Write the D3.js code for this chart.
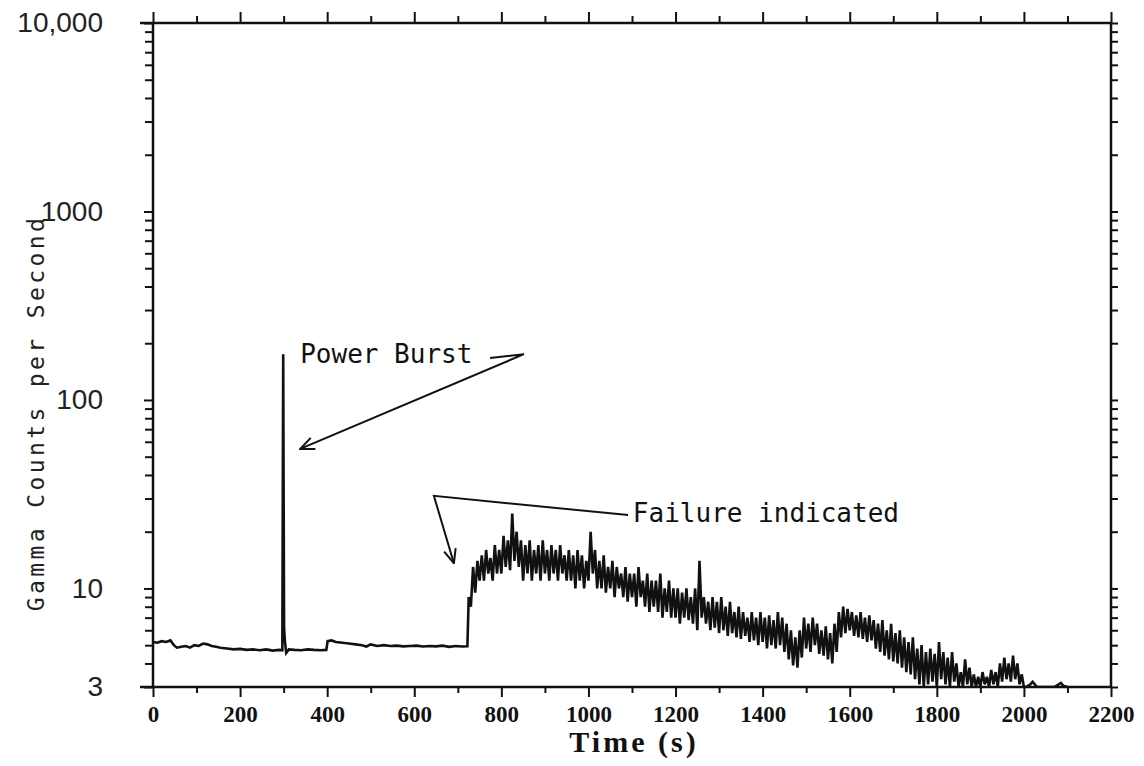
<!DOCTYPE html>
<html>
<head>
<meta charset="utf-8">
<script src="https://cdn.jsdelivr.net/npm/d3@7"></script>
<style>
  body { margin: 0; background: #fff; }
</style>
</head>
<body>
<div id="chart"></div>
<script>
// --- data ---
// background counts before the failure (time s, counts/s)
const baseTimes = [0, 10, 20, 30, 40, 48, 55, 65, 75, 85,
  95, 105, 115, 125, 135, 145, 155, 170, 185, 200,
  215, 230, 245, 260, 275, 290, 297, 299, 301, 303,
  306, 312, 325, 340, 355, 370, 385, 398, 401, 410,
  420, 435, 450, 465, 480, 490, 500, 515, 530, 545,
  560, 575, 590, 605, 620, 635, 650, 665, 680, 695,
  710, 722];
const baseCounts = [5.2, 5.15, 5.25, 5.2, 5.3, 5.0, 4.85, 4.9, 4.95, 4.85,
  5.0, 4.95, 5.1, 5.05, 4.95, 4.9, 4.85, 4.8, 4.75, 4.78,
  4.72, 4.75, 4.7, 4.75, 4.68, 4.72, 4.7, 175, 6.2, 5.2,
  4.55, 4.75, 4.72, 4.7, 4.75, 4.72, 4.7, 4.72, 5.25, 5.3,
  5.2, 5.15, 5.1, 5.05, 5.0, 4.92, 5.05, 4.95, 5.0, 4.95,
  4.97, 4.93, 4.95, 4.97, 4.92, 4.95, 4.93, 4.97, 4.9, 4.95,
  4.92, 4.93];

// noisy trace after failure: 10 s windows starting at 725 s, high / low reading
const failStart = 725;
const failStep = 10;
const failHigh = [
  9, 13, 14, 15, 16, 14.5, 17, 16, 19, 18,
  25, 20, 18, 17, 18, 16, 17, 18, 16, 17,
  16, 17, 15, 16, 15, 16, 15, 14, 20, 16,
  14, 15, 13, 14, 13, 12, 13, 12, 12, 13,
  11, 12, 11, 11, 12, 10, 11, 10, 10, 9.5,
  10, 9, 10, 14, 9, 8.5, 9, 8.5, 9, 8,
  8.5, 7.5, 8, 7.5, 7, 7.5, 7, 7.5, 7, 7.2,
  6.8, 7.5, 7, 6.5, 6, 5.5, 6, 7, 6.5, 7,
  6.5, 6, 6.3, 5.8, 6.5, 7.5, 8, 7.8, 7.5, 7.2,
  7.5, 7, 7.2, 6.8, 6.5, 6.8, 6, 6.5, 5.8, 6,
  5.5, 5.2, 5.5, 4.8, 5, 4.6, 4.8, 4.5, 5.2, 4.6,
  4.3, 4.6, 4, 3.6, 4.2, 3.8, 3.5, 3.4, 3.6, 3.4,
  3.7, 3.6, 4.0, 4.3, 4.0, 4.4, 4.0, 3.5];
const failLow = [
  8, 9.5, 11, 11, 12, 11, 12, 12, 13, 12.5,
  14, 13, 11, 12, 11, 12, 11, 12, 11, 12,
  11, 12, 11, 11, 10, 11, 10, 11, 12, 10,
  10, 9.5, 10, 9, 10, 9, 8.5, 9, 8, 9,
  8, 7.5, 8, 7.5, 7, 7.5, 7, 7, 6.5, 7,
  6.8, 6.5, 6, 7, 6.5, 6, 6.2, 5.8, 6, 5.6,
  5.8, 5.5, 5.4, 5.6, 5.2, 5.3, 5, 5.2, 4.8, 5,
  4.8, 5, 4.6, 4.2, 3.9, 3.8, 4.3, 4.8, 4.6, 5,
  4.5, 4.4, 4.2, 4, 4.6, 5.5, 5.8, 6, 5.6, 5.5,
  5.4, 5.2, 5.3, 4.8, 4.6, 4.4, 4.2, 4.1, 4, 3.8,
  3.6, 3.5, 3.3, 3.1, 3, 3.1, 3.2, 3, 3.3, 3.1,
  3, 3.2, 3, 3, 3.1, 3, 3, 3, 3.1, 3,
  3.1, 3, 3.2, 3.3, 3.2, 3.3, 3.1, 3.0];

// tail along the bottom of the scale
const tailTimes = [2005, 2015, 2020, 2030, 2050, 2070, 2085, 2090, 2100];
const tailCounts = [3, 3.1, 3.2, 3, 3, 3, 3.15, 3.05, 3];

// axes
const xMajorTicks = [0, 200, 400, 600, 800, 1000, 1200, 1400, 1600, 1800, 2000, 2200];
const xMinorTicks = [100, 300, 500, 700, 900, 1100, 1300, 1500, 1700, 1900, 2100];
const yMajorTicks = [3, 10, 100, 1000, 10000];
const yTickLabels = ["3", "10", "100", "1000", "10,000"];
const yMinorTicks = [4, 5, 6, 7, 8, 9, 20, 30, 40, 50, 60, 70, 80, 90,
  200, 300, 400, 500, 600, 700, 800, 900,
  2000, 3000, 4000, 5000, 6000, 7000, 8000, 9000];

// annotations in data coordinates [time, counts]
const burstLabel = { text: "Power Burst", t: 338, c: 157 };
const burstArrow = [[774, 167], [852, 175], [338, 55]];
const failLabel = { text: "Failure indicated", t: 1102, c: 22.5 };
const failArrow = [[1091, 24.5], [645, 31], [691, 13.6]];

// --- chart ---
const width = 1144, height = 766;
const svg = d3.select("#chart").append("svg")
  .attr("width", width)
  .attr("height", height)
  .style("background", "#fff");

const x = d3.scaleLinear().domain([0, 2200]).range([153, 1111]);
const y = d3.scaleLog().domain([3, 10000]).range([687, 23]);

// build the trace
const points = baseTimes.map((t, i) => [t, baseCounts[i]]);
failHigh.forEach((h, i) => {
  const t = failStart + i * failStep;
  points.push([t, h]);
  points.push([t + failStep / 2, failLow[i]]);
});
tailTimes.forEach((t, i) => points.push([t, tailCounts[i]]));

svg.append("defs").append("clipPath").attr("id", "clip")
  .append("rect")
  .attr("x", x(0)).attr("y", y(10000))
  .attr("width", x(2200) - x(0)).attr("height", y(3) - y(10000));

const line = d3.line()
  .x(d => x(d[0]))
  .y(d => y(Math.max(3, d[1])));

svg.append("path")
  .datum(points)
  .attr("clip-path", "url(#clip)")
  .attr("fill", "none")
  .attr("stroke", "#111")
  .attr("stroke-width", 2.6)
  .attr("stroke-linejoin", "miter")
  .attr("d", line);

// ticks
function styleTicks(g) {
  g.select(".domain").remove();
  g.selectAll(".tick line").attr("stroke", "#111").attr("stroke-width", 2);
}

svg.append("g")
  .attr("transform", `translate(0,${y(3)})`)
  .call(d3.axisBottom(x).tickValues(xMinorTicks).tickSize(6).tickFormat(""))
  .call(styleTicks);
svg.append("g")
  .attr("transform", `translate(0,${y(3)})`)
  .call(d3.axisBottom(x).tickValues(xMajorTicks).tickSize(10).tickPadding(9)
    .tickFormat(d3.format("d")))
  .call(styleTicks)
  .call(g => g.selectAll("text")
    .attr("fill", "#111")
    .style("font-family", "'Liberation Serif', serif")
    .style("font-weight", "bold")
    .style("font-size", "23px"));

svg.append("g")
  .attr("transform", `translate(0,${y(10000)})`)
  .call(d3.axisTop(x).tickValues(xMinorTicks).tickSize(7).tickFormat(""))
  .call(styleTicks);
svg.append("g")
  .attr("transform", `translate(0,${y(10000)})`)
  .call(d3.axisTop(x).tickValues(xMajorTicks).tickSize(11).tickFormat(""))
  .call(styleTicks);

svg.append("g")
  .attr("transform", `translate(${x(0)},0)`)
  .call(d3.axisLeft(y).tickValues(yMinorTicks).tickSize(8).tickFormat(""))
  .call(styleTicks);
svg.append("g")
  .attr("transform", `translate(${x(0)},0)`)
  .call(d3.axisLeft(y).tickValues(yMajorTicks).tickSize(9).tickPadding(41)
    .tickFormat(d => yTickLabels[yMajorTicks.indexOf(d)]))
  .call(styleTicks)
  .call(g => g.selectAll("text")
    .attr("fill", "#222")
    .style("font-family", "'Liberation Sans', Arial, sans-serif")
    .style("font-size", "28px"));

svg.append("g")
  .attr("transform", `translate(${x(2200)},0)`)
  .call(d3.axisRight(y).tickValues(yMinorTicks.concat(yMajorTicks)).tickSize(7).tickFormat(""))
  .call(styleTicks);

// frame
const frame = svg.append("g").attr("stroke", "#111").attr("stroke-width", 2.5);
frame.append("line").attr("x1", x(0) - 13).attr("x2", x(2200)).attr("y1", y(10000)).attr("y2", y(10000));
frame.append("line").attr("x1", x(0) - 13).attr("x2", x(2200)).attr("y1", y(3)).attr("y2", y(3));
frame.append("line").attr("x1", x(0)).attr("x2", x(0)).attr("y1", y(10000)).attr("y2", y(3));
frame.append("line").attr("x1", x(2200)).attr("x2", x(2200)).attr("y1", y(10000)).attr("y2", y(3));

// axis titles
svg.append("text")
  .attr("x", (x(0) + x(2200)) / 2 + 2)
  .attr("y", 752)
  .attr("text-anchor", "middle")
  .attr("fill", "#111")
  .style("font-family", "'Liberation Serif', serif")
  .style("font-weight", "bold")
  .style("font-size", "30px")
  .style("letter-spacing", "3px")
  .text("Time (s)");

svg.append("text")
  .attr("transform", `translate(44,${(y(3) + y(10000)) / 2 + 58}) rotate(-90)`)
  .attr("text-anchor", "middle")
  .attr("fill", "#222")
  .style("font-family", "'DejaVu Sans Mono', monospace")
  .style("font-size", "23px")
  .style("letter-spacing", "3.4px")
  .text("Gamma Counts per Second");

// annotations
svg.select("defs").append("marker")
  .attr("id", "arrow")
  .attr("viewBox", "0 0 16 16")
  .attr("refX", 15).attr("refY", 8)
  .attr("markerWidth", 16).attr("markerHeight", 16)
  .attr("markerUnits", "userSpaceOnUse")
  .attr("orient", "auto")
  .append("path")
  .attr("d", "M1,2 L15,8 L1,14")
  .attr("fill", "none")
  .attr("stroke", "#111")
  .attr("stroke-width", 2);

const annoLine = d3.line().x(d => x(d[0])).y(d => y(d[1]));

[burstArrow, failArrow].forEach(a => {
  svg.append("path")
    .datum(a)
    .attr("fill", "none")
    .attr("stroke", "#111")
    .attr("stroke-width", 2)
    .attr("marker-end", "url(#arrow)")
    .attr("d", annoLine);
});

[burstLabel, failLabel].forEach(l => {
  svg.append("text")
    .attr("x", x(l.t))
    .attr("y", y(l.c))
    .attr("fill", "#111")
    .style("font-family", "'DejaVu Sans Mono', monospace")
    .style("font-size", "26px")
    .text(l.text);
});
</script>
</body>
</html>
